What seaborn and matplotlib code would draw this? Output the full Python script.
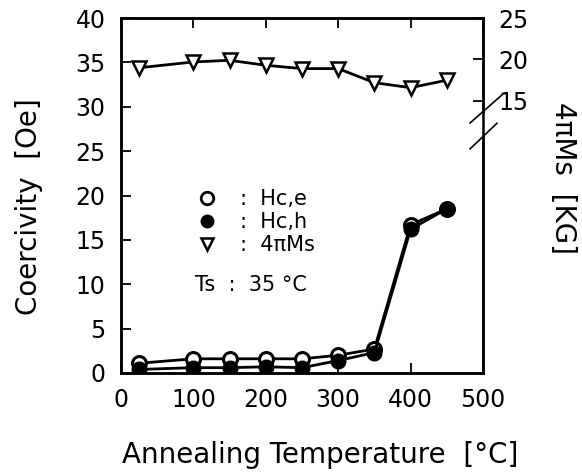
import matplotlib
matplotlib.use("Agg")
import matplotlib.pyplot as plt
from matplotlib.lines import Line2D
import seaborn as sns
import pandas as pd

temps = [25, 100, 150, 200, 250, 300, 350, 400, 450]
hc_e = [1.1, 1.6, 1.6, 1.6, 1.6, 2.0, 2.7, 16.7, 18.5]
hc_h = [0.4, 0.6, 0.6, 0.7, 0.6, 1.4, 2.3, 16.2, 18.5]
ms = [19.0, 19.7, 19.9, 19.3, 18.9, 18.9, 17.2, 16.6, 17.5]

x_ticks = [0, 100, 200, 300, 400, 500]
y_ticks = [0, 5, 10, 15, 20, 25, 30, 35, 40]
y2_ticks = [15, 20, 25]

sns.set_style("ticks")
plt.rcParams['font.family'] = ['DejaVu Sans']
plt.rcParams.update({
    "text.color": "black", "axes.labelcolor": "black",
    "xtick.color": "black", "ytick.color": "black",
    "xtick.direction": "in", "ytick.direction": "in",
})

fig = plt.figure(figsize=(5.82, 4.76), dpi=100)
ax = fig.add_axes([121/582, 1-373/476, 362/582, 355/476])

df = pd.DataFrame({"T": temps, "Hce": hc_e, "Hch": hc_h, "Ms": ms})

sns.lineplot(data=df, x="T", y="Hce", ax=ax, color="black", lw=2,
             marker="o", markersize=10, markerfacecolor="white",
             markeredgecolor="black", markeredgewidth=2.2, zorder=3)
sns.lineplot(data=df, x="T", y="Hch", ax=ax, color="black", lw=2,
             marker="o", markersize=10, markerfacecolor="black",
             markeredgecolor="black", markeredgewidth=1.5, zorder=4)

ax.set_xlim(0, 500)
ax.set_ylim(0, 40)
ax.set_xticks(x_ticks)
ax.set_yticks(y_ticks)
ax.tick_params(axis="both", direction="in", length=7, width=1.3, labelsize=17,
               pad=11, top=True, right=False)
for s in ax.spines.values():
    s.set_linewidth(1.8)
    s.set_color("black")

ax2 = ax.twinx()
sns.lineplot(data=df, x="T", y="Ms", ax=ax2, color="black", lw=2,
             marker="v", markersize=9.5, markerfacecolor="white",
             markeredgecolor="black", markeredgewidth=1.8)
ax2.set_ylim(-17.8, 25)
ax2.set_yticks(y2_ticks)
ax2.tick_params(axis="y", direction="in", length=7, width=1.3, labelsize=17, pad=11)
ax2.set_ylabel("4πMs  [KG]", fontsize=20, rotation=270, va="center")
ax2.yaxis.set_label_coords(1.22, 0.55)
ax2.set_xlabel("")
for s in ax2.spines.values():
    s.set_linewidth(1.8)
    s.set_color("black")
ax2.spines["right"].set_visible(False)
# right spine with axis break
ax2.plot([1, 1], [0, 0.665], transform=ax2.transAxes, color="black", lw=1.8, clip_on=False)
ax2.plot([1, 1], [0.735, 1], transform=ax2.transAxes, color="black", lw=1.8, clip_on=False)
ax2.plot([0.964, 1.052], [0.704, 0.783], transform=ax2.transAxes, color="black", lw=1.2, clip_on=False)
ax2.plot([0.964, 1.039], [0.631, 0.704], transform=ax2.transAxes, color="black", lw=1.2, clip_on=False)

ax.set_xlabel("Annealing Temperature  [°C]", fontsize=20, va="center")
ax.xaxis.set_label_coords(0.55, -0.23)
ax.set_ylabel("Coercivity  [Oe]", fontsize=20, va="center")
ax.yaxis.set_label_coords(-0.254, 0.47)

handles = [
    Line2D([], [], ls="none", marker="o", markersize=9, markerfacecolor="white",
           markeredgecolor="black", markeredgewidth=2),
    Line2D([], [], ls="none", marker="o", markersize=9, markerfacecolor="black",
           markeredgecolor="black"),
    Line2D([], [], ls="none", marker="v", markersize=8, markerfacecolor="white",
           markeredgecolor="black", markeredgewidth=1.8),
]
labels = [":  Hc,e", ":  Hc,h", ":  4πMs"]
leg = ax2.legend(handles, labels, loc="upper left", bbox_to_anchor=(0.209, 0.518),
                 frameon=False, fontsize=15, handlelength=1.0, handletextpad=1.09,
                 labelspacing=0.15, borderaxespad=0, borderpad=0)
ax.text(0.204, 0.248, "Ts  :  35 °C", transform=ax.transAxes, fontsize=15,
        ha="left", va="center")

fig.savefig("out.png", dpi=100)
